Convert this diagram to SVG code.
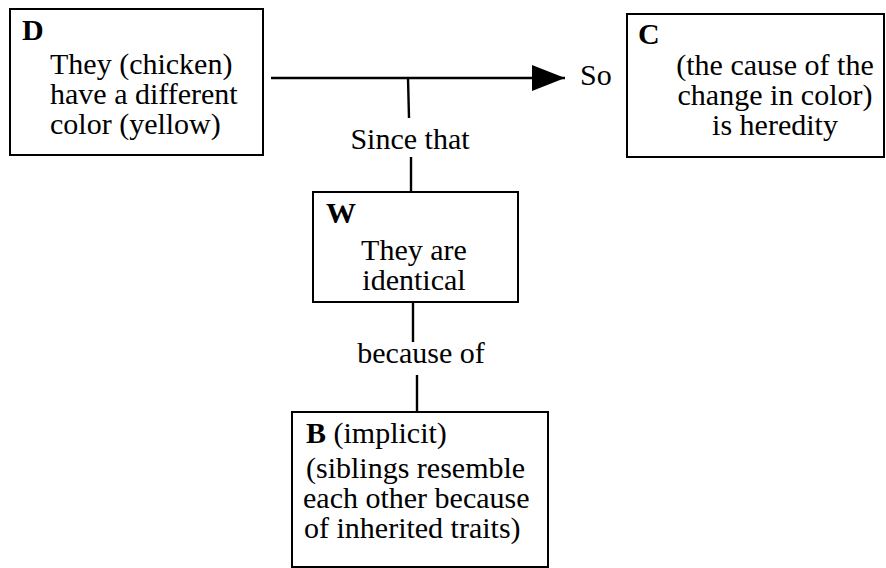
<svg xmlns="http://www.w3.org/2000/svg" width="886" height="568" viewBox="0 0 886 568">
  <style>
    .box { fill: #ffffff; stroke: #000000; stroke-width: 2; }
    .txt { font-family: "Liberation Serif", "Times New Roman", serif; font-size: 30px; fill: #000000; }
    .lbl { font-weight: bold; }
    .mid { text-anchor: middle; }
    .wire { stroke: #000000; stroke-width: 2.4; fill: none; }
  </style>
  <defs>
    <marker id="arrowhead" markerUnits="userSpaceOnUse" markerWidth="34" markerHeight="28" refX="33" refY="13" orient="auto">
      <path d="M0,0 L33,13 L0,26 Z" fill="#000000"/>
    </marker>
  </defs>
  <rect width="886" height="568" fill="#ffffff"/>

  <!-- connectors and their labels -->
  <g id="connectors">
    <line class="wire" x1="271" y1="78" x2="565" y2="78" marker-end="url(#arrowhead)"/>
    <line class="wire" x1="408" y1="78" x2="409" y2="118"/>
    <line class="wire" x1="411" y1="157" x2="411" y2="192"/>
    <line class="wire" x1="413" y1="302" x2="413" y2="342"/>
    <line class="wire" x1="417" y1="375" x2="417" y2="412"/>
    <text class="txt" x="580" y="85">So</text>
    <text class="txt mid" x="410" y="149">Since that</text>
    <text class="txt mid" x="421" y="363">because of</text>
  </g>

  <!-- data -->
  <g id="node-d">
    <rect class="box" x="10" y="9" width="253" height="146"/>
    <text class="txt lbl" x="22" y="40">D</text>
    <text class="txt" x="50" y="74">They (chicken)</text>
    <text class="txt" x="50" y="104">have a different</text>
    <text class="txt" x="50" y="134">color (yellow)</text>
  </g>

  <!-- claim -->
  <g id="node-c">
    <rect class="box" x="627" y="14" width="257" height="143"/>
    <text class="txt lbl" x="638" y="44">C</text>
    <text class="txt mid" x="775" y="75">(the cause of the</text>
    <text class="txt mid" x="775" y="105">change in color)</text>
    <text class="txt mid" x="775" y="135">is heredity</text>
  </g>

  <!-- warrant -->
  <g id="node-w">
    <rect class="box" x="313" y="192" width="205" height="110"/>
    <text class="txt lbl" x="326" y="223">W</text>
    <text class="txt mid" x="414" y="260">They are</text>
    <text class="txt mid" x="414" y="290">identical</text>
  </g>

  <!-- backing -->
  <g id="node-b">
    <rect class="box" x="292" y="412" width="256" height="155"/>
    <text class="txt" x="306" y="443"><tspan class="lbl">B</tspan> (implicit)</text>
    <text class="txt" x="306" y="478">(siblings resemble</text>
    <text class="txt" x="303" y="508">each other because</text>
    <text class="txt" x="304" y="538">of inherited traits)</text>
  </g>
</svg>
